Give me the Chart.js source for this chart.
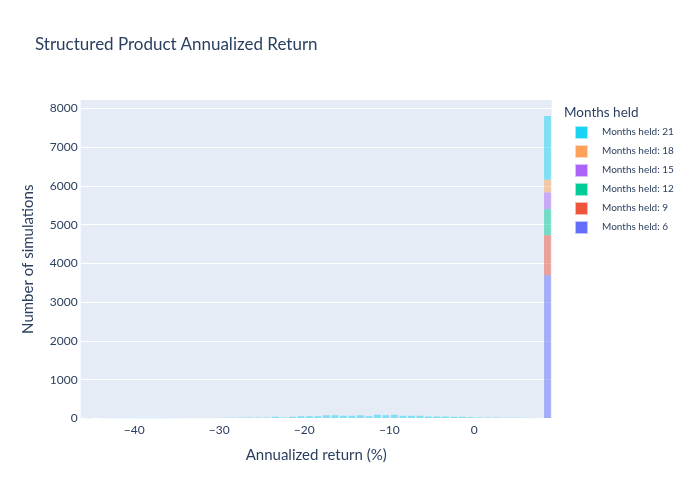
<!DOCTYPE html>
<html>
<head>
<meta charset="utf-8">
<script src="https://cdn.jsdelivr.net/npm/chart.js@4/dist/chart.umd.min.js"></script>
<style>
  html, body { margin: 0; padding: 0; background: #ffffff; }
  #wrap { position: relative; width: 700px; height: 500px; font-family: Lato, "Open Sans", sans-serif; color: #2a3f5f; }
  #c { position: absolute; left: 0; top: 0; }
  .title { position: absolute; left: 35px; top: 33px; font-size: 17px; line-height: 22px; white-space: nowrap; }
  .lgTitle { position: absolute; left: 564px; top: 104px; font-size: 13.5px; line-height: 17px; white-space: nowrap; }
  .lgItem { position: absolute; left: 575px; height: 14px; white-space: nowrap; }
  .lgItem .sw { position: absolute; left: 0; top: 1px; width: 11px; height: 11px; border: 0.5px solid rgba(255,255,255,0.6); }
  .lgItem .tx { position: absolute; left: 27px; top: -0.5px; font-size: 10px; line-height: 14px; }
</style>
</head>
<body>
<div id="wrap">
  <canvas id="c" width="700" height="500"></canvas>
  <div class="title">Structured Product Annualized Return</div>
  <div class="lgTitle">Months held</div>
  <div id="legend"></div>
</div>
<script>
// ---- data ----
const seriesNames = ["Months held: 6", "Months held: 9", "Months held: 12", "Months held: 15", "Months held: 18", "Months held: 21"];
const seriesColors = ["#636efa", "#EF553B", "#00cc96", "#ab63fa", "#FFA15A", "#19d3f3"];

// bin centres (annualized return %, bin width 1)
const capBin = [8.6];
const counts6 = [3700];
const counts9 = [1030];
const counts12 = [670];
const counts15 = [430];
const counts18 = [330];

const bins21 = [-45.4, -44.4, -43.4, -42.4, -41.4, -40.4, -39.4, -38.4, -37.4, -36.4, -35.4, -34.4, -33.4, -32.4, -31.4, -30.4,
  -29.4, -28.4, -27.4, -26.4, -25.4, -24.4, -23.4, -22.4, -21.4, -20.4, -19.4, -18.4, -17.4, -16.4, -15.4, -14.4,
  -13.4, -12.4, -11.4, -10.4, -9.4, -8.4, -7.4, -6.4, -5.4, -4.4, -3.4, -2.4, -1.4, -0.4, 0.6, 1.6, 2.6, 3.6, 4.6, 5.6, 6.6, 8.6];
const counts21 = [1, 0, 1, 1, 1, 1, 1, 2, 1, 2, 3, 3, 4, 5, 6, 8,
  20, 22, 24, 25, 26, 27, 45, 28, 45, 55, 60, 60, 86, 86, 70, 70,
  86, 60, 95, 86, 95, 70, 70, 70, 52, 50, 50, 45, 45, 35, 26, 26, 26, 20, 20, 20, 5, 1650];

const xTicks = [-40, -30, -20, -10, 0];
const yTicks = [0, 1000, 2000, 3000, 4000, 5000, 6000, 7000, 8000];

// ---- build datasets ----
function pts(xs, ys) { return xs.map((x, i) => ({ x: x, y: ys[i] })); }
function alpha(hex, a) {
  const n = parseInt(hex.slice(1), 16);
  return `rgba(${(n >> 16) & 255},${(n >> 8) & 255},${n & 255},${a})`;
}
const seriesData = [
  pts(capBin, counts6), pts(capBin, counts9), pts(capBin, counts12),
  pts(capBin, counts15), pts(capBin, counts18), pts(bins21, counts21)
];
const datasets = seriesData.map((d, i) => ({
  label: seriesNames[i],
  data: d,
  backgroundColor: alpha(seriesColors[i], 0.5),
  borderWidth: 0,
  barPercentage: 0.8,
  categoryPercentage: 1.0
}));

// ---- legend (HTML, reversed like plotly stacked bars) ----
const lg = document.getElementById('legend');
for (let k = 0; k < seriesNames.length; k++) {
  const i = seriesNames.length - 1 - k;
  const div = document.createElement('div');
  div.className = 'lgItem';
  div.style.top = (124.7 + 19 * k) + 'px';
  div.innerHTML = `<div class="sw" style="background:${seriesColors[i]}"></div><div class="tx">${seriesNames[i]}</div>`;
  lg.appendChild(div);
}

Chart.defaults.font.family = "Lato, 'Open Sans', sans-serif";
Chart.defaults.color = '#2a3f5f';

const bgPlugin = {
  id: 'plotBg',
  beforeDraw(chart) {
    const a = chart.chartArea, ctx = chart.ctx;
    ctx.save();
    ctx.fillStyle = '#E5ECF6';
    ctx.fillRect(a.left, a.top, a.right - a.left, a.bottom - a.top);
    ctx.restore();
  }
};

new Chart(document.getElementById('c'), {
  type: 'bar',
  data: { datasets: datasets },
  options: {
    responsive: false,
    animation: false,
    layout: { padding: { left: 0, top: 100, right: 148.3, bottom: 0 } },
    plugins: { legend: { display: false }, title: { display: false }, tooltip: { enabled: false } },
    scales: {
      x: {
        type: 'linear',
        stacked: true,
        offset: false,
        min: -46.3,
        max: 9.1,
        grid: { display: false, drawTicks: false, offset: false },
        border: { display: false },
        afterFit(s) { s.height = 81.5; },
        afterBuildTicks(s) { s.ticks = xTicks.map(v => ({ value: v })); },
        ticks: {
          padding: 4,
          font: { size: 12 },
          color: '#2a3f5f',
          maxRotation: 0,
          callback: v => (v < 0 ? '\u2212' + Math.abs(v) : String(v))
        },
        title: { display: true, text: 'Annualized return (%)', font: { size: 15 }, color: '#2a3f5f', padding: { top: 0, bottom: 36 } }
      },
      y: {
        stacked: true,
        min: 0,
        max: 8220,
        grid: { color: '#ffffff', lineWidth: 1, drawTicks: false },
        border: { display: false },
        afterFit(s) { s.width = 80.7; },
        afterBuildTicks(s) { s.ticks = yTicks.map(v => ({ value: v })); },
        ticks: { padding: 3, font: { size: 12 }, color: '#2a3f5f', callback: v => String(v) },
        title: { display: true, text: 'Number of simulations', font: { size: 15 }, color: '#2a3f5f', padding: { top: 19, bottom: 0 } }
      }
    }
  },
  plugins: [bgPlugin]
});
</script>
</body>
</html>
